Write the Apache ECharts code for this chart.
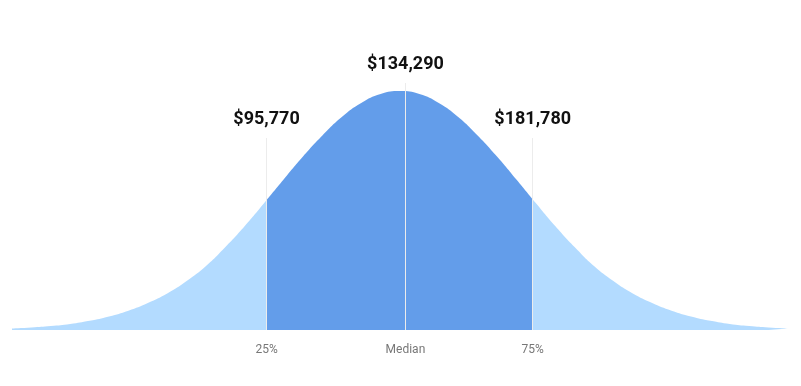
<!DOCTYPE html>
<html>
<head>
<meta charset="utf-8">
<script src="https://cdn.jsdelivr.net/npm/echarts@6/dist/echarts.min.js"></script>
<style>
html,body{margin:0;padding:0;background:#fff;}
#chart{width:801px;height:386px;}
</style>
</head>
<body>
<div id="chart"></div>
<script>
// Curve sample positions (0-100 across the plot) and heights
const curveX = [0, 2.5, 5, 7.5, 10, 12.5, 15, 17.5, 20, 22.5, 25, 27.5, 30, 32.5, 35, 37.5, 40, 42.5, 45, 47.5, 50,
                52.5, 55, 57.5, 60, 62.5, 65, 67.5, 70, 72.5, 75, 77.5, 80, 82.5, 85, 87.5, 90, 92.5, 95, 97.5, 100];
const curveY = [1.5, 2.5, 3.9, 6, 9.2, 13.5, 19.3, 27, 36.5, 49, 64, 83, 104, 127, 150.5, 173.5, 194.5, 213, 227, 236, 239,
                236, 227, 213, 194.5, 173.5, 150.5, 127, 104, 83, 64, 49, 36.5, 27, 19.3, 13.5, 9.2, 6, 3.9, 2.5, 1.5];

// Marker positions, salary labels and axis tick labels
const markerX = [32.8, 50.7, 67.1];
const salaryLabels = ['$95,770', '$134,290', '$181,780'];
const tickLabels = ['25%', 'Median', '75%'];
const markerTop = [192, 247, 192];

const LIGHT = '#b3dbff';
const DARK = '#639dea';

const chart = echarts.init(document.getElementById('chart'), null, {renderer: 'canvas'});

const lineData = markerX.map((x, i) => [
  {coord: [x, 0], label: {formatter: salaryLabels[i]}},
  {coord: [x, markerTop[i]]}
]);

chart.setOption({
  animation: false,
  backgroundColor: '#ffffff',
  grid: {left: 12, right: 13, top: 30, bottom: 56},
  xAxis: {
    type: 'value', min: 0, max: 100,
    splitLine: {show: false},
    axisLine: {show: false},
    axisTick: {show: false},
    axisLabel: {
      customValues: markerX,
      margin: 14,
      color: '#777777',
      fontSize: 12,
      fontFamily: 'Roboto',
      formatter: function (v) {
        const i = markerX.indexOf(v);
        return i >= 0 ? tickLabels[i] : '';
      }
    }
  },
  yAxis: {
    type: 'value', min: 0, max: 300,
    show: false
  },
  visualMap: {
    type: 'piecewise', show: false, dimension: 0, seriesIndex: 0,
    pieces: [
      {lt: markerX[0], color: LIGHT},
      {gte: markerX[0], lte: markerX[2], color: DARK},
      {gt: markerX[2], color: LIGHT}
    ]
  },
  series: [{
    type: 'line',
    data: curveX.map((x, i) => [x, curveY[i]]),
    smooth: 0.5,
    showSymbol: false,
    symbol: 'none',
    lineStyle: {width: 0},
    areaStyle: {opacity: 1},
    silent: true,
    markLine: {
      silent: true,
      symbol: ['none', 'none'],
      lineStyle: {color: '#ececec', width: 1, type: 'solid'},
      label: {
        show: true,
        position: 'end',
        distance: 10,
        color: '#111111',
        fontSize: 18,
        fontWeight: 'bold',
        fontFamily: 'Roboto'
      },
      data: lineData
    }
  }]
});
</script>
</body>
</html>
